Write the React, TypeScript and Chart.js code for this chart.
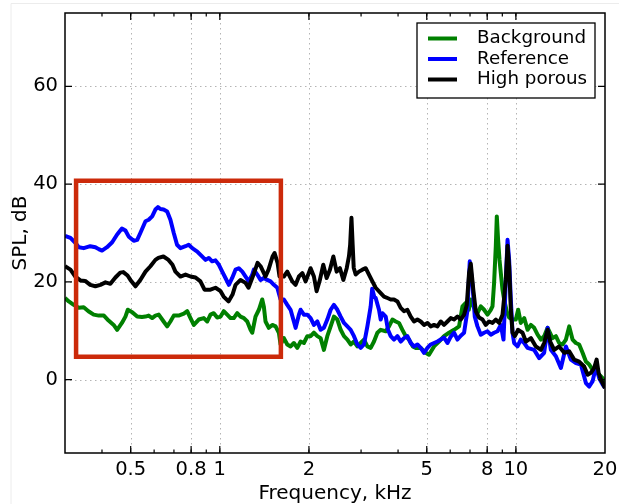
import React, { useEffect, useRef } from "react";
import { Chart, registerables } from "chart.js";

Chart.register(...registerables);

// ---------- data (frequency in kHz, level in dB) ----------
const bgFreq = [
  0.300, 0.309, 0.321, 0.334, 0.347, 0.360, 0.375, 0.390, 0.406, 0.421,
  0.438, 0.450, 0.467, 0.480, 0.489, 0.506, 0.526, 0.546, 0.561, 0.575,
  0.591, 0.606, 0.622, 0.646, 0.664, 0.681, 0.699, 0.726, 0.756, 0.776,
  0.796, 0.817, 0.849, 0.883, 0.907, 0.930, 0.954, 0.980, 1.006, 1.031,
  1.059, 1.087, 1.115, 1.145, 1.175, 1.206, 1.238, 1.270, 1.287, 1.320,
  1.355, 1.391, 1.408, 1.427, 1.464, 1.504, 1.543, 1.583, 1.604, 1.646,
  1.690, 1.734, 1.779, 1.827, 1.875, 1.923, 1.975, 2.026, 2.079, 2.135,
  2.190, 2.247, 2.307, 2.368, 2.429, 2.495, 2.560, 2.627, 2.697, 2.767,
  2.839, 2.915, 2.991, 3.069, 3.151, 3.233, 3.317, 3.406, 3.495, 3.634,
  3.728, 3.828, 3.928, 4.029, 4.137, 4.245, 4.356, 4.483, 4.589, 4.771,
  4.961, 5.089, 5.291, 5.501, 5.719, 5.946, 6.183, 6.428, 6.601, 6.773,
  6.933, 7.042, 7.224, 7.418, 7.612, 7.810, 8.019, 8.228, 8.337, 8.442,
  8.555, 8.622, 8.709, 8.805, 8.895, 9.013, 9.127, 9.321, 9.489, 9.744,
  9.998, 10.18, 10.39, 10.67, 10.95, 11.24, 11.53, 11.84, 12.15, 12.46,
  12.80, 13.30, 13.65, 14.00, 14.38, 14.76, 15.14, 15.54, 15.95, 16.36,
  16.80, 17.24, 17.69, 18.17, 18.64, 19.12, 19.64, 20.0,
];
const bgDb = [
  16.7, 16.0, 15.3, 14.7, 14.8, 14.0, 13.3, 13.1, 13.1, 12.1,
  11.2, 10.2, 11.6, 12.9, 14.3, 13.8, 12.9, 12.8, 12.9, 13.1,
  12.6, 13.1, 13.3, 11.9, 10.9, 11.9, 13.1, 13.1, 13.5, 14.0,
  12.6, 11.2, 12.3, 12.6, 11.9, 13.3, 13.6, 12.7, 12.9, 14.0,
  13.3, 12.6, 12.6, 13.6, 12.9, 12.6, 11.9, 10.2, 9.6, 12.9,
  14.3, 16.4, 15.0, 11.9, 10.6, 11.2, 10.9, 9.6, 7.2, 8.5,
  7.2, 6.8, 7.5, 6.5, 7.8, 7.5, 8.9, 8.9, 9.6, 8.9,
  8.5, 6.1, 8.9, 10.9, 12.9, 12.3, 10.2, 8.9, 8.2, 7.2,
  7.8, 6.8, 7.5, 8.2, 6.8, 6.5, 7.8, 9.6, 10.2, 9.9,
  10.9, 12.3, 11.9, 11.6, 10.2, 8.9, 8.2, 6.8, 6.5, 6.5,
  5.5, 5.1, 6.8, 7.8, 8.9, 9.6, 10.2, 10.9, 15.0, 15.7,
  14.3, 16.4, 14.7, 13.6, 15.0, 14.3, 13.3, 14.3, 15.0, 19.8,
  27.3, 33.4, 28.6, 24.5, 21.8, 18.4, 16.4, 13.9, 12.7, 12.3,
  12.3, 14.3, 11.6, 12.6, 10.2, 11.2, 10.6, 9.2, 8.2, 8.9,
  10.6, 8.5, 8.9, 7.5, 7.2, 8.2, 10.9, 8.2, 7.5, 7.2,
  5.5, 3.7, 3.1, 2.0, 1.7, 1.0, 0.3, -0.7,
];

const refFreq = [
  0.300, 0.313, 0.325, 0.334, 0.347, 0.365, 0.380, 0.390, 0.400, 0.416,
  0.433, 0.450, 0.467, 0.480, 0.492, 0.512, 0.526, 0.539, 0.561, 0.575,
  0.591, 0.606, 0.618, 0.630, 0.646, 0.664, 0.681, 0.699, 0.717, 0.736,
  0.766, 0.785, 0.807, 0.839, 0.871, 0.895, 0.918, 0.942, 0.967, 0.993,
  1.019, 1.045, 1.073, 1.101, 1.130, 1.159, 1.191, 1.222, 1.253, 1.287,
  1.303, 1.338, 1.373, 1.408, 1.446, 1.484, 1.523, 1.564, 1.604, 1.646,
  1.690, 1.734, 1.779, 1.803, 1.850, 1.875, 1.923, 1.975, 2.026, 2.079,
  2.135, 2.190, 2.247, 2.307, 2.368, 2.429, 2.495, 2.560, 2.627, 2.697,
  2.767, 2.839, 2.915, 2.991, 3.069, 3.151, 3.233, 3.271, 3.322, 3.361,
  3.449, 3.495, 3.541, 3.634, 3.698, 3.778, 3.876, 3.980, 4.083, 4.189,
  4.301, 4.414, 4.528, 4.650, 4.771, 4.895, 5.027, 5.157, 5.291, 5.433,
  5.575, 5.719, 5.873, 6.026, 6.183, 6.349, 6.514, 6.684, 6.852, 6.987,
  7.136, 7.264, 7.418, 7.612, 7.810, 8.019, 8.228, 8.442, 8.669, 8.895,
  9.083, 9.249, 9.372, 9.489, 9.616, 9.744, 9.866, 10.13, 10.39, 10.67,
  10.95, 11.53, 11.99, 12.46, 12.80, 13.13, 13.65, 14.19, 14.76, 15.34,
  15.95, 16.58, 17.24, 17.69, 18.17, 18.64, 19.12, 19.64, 20.0,
];
const refDb = [
  29.4, 29.0, 28.0, 27.1, 26.9, 27.3, 27.1, 26.7, 26.4, 27.1,
  28.1, 29.7, 30.9, 30.5, 29.3, 28.4, 28.6, 30.0, 32.4, 32.7,
  33.4, 34.8, 35.3, 34.9, 34.8, 34.4, 32.7, 30.0, 27.6, 26.9,
  27.3, 27.6, 26.9, 26.2, 25.2, 24.5, 24.9, 24.2, 24.4, 23.5,
  22.1, 20.8, 19.4, 20.8, 22.5, 22.8, 22.1, 21.1, 20.1, 21.5,
  22.5, 21.5, 20.4, 20.8, 20.4, 20.1, 19.4, 18.8, 16.4, 16.4,
  15.3, 14.3, 11.9, 10.6, 13.3, 14.3, 13.3, 13.3, 12.6, 11.2,
  11.9, 10.2, 10.6, 12.3, 14.3, 15.3, 14.3, 12.9, 11.6, 10.9,
  10.2, 8.9, 7.2, 6.5, 7.2, 10.9, 15.0, 18.6, 17.0, 16.7,
  14.3, 12.3, 13.6, 12.9, 10.2, 8.9, 8.2, 8.9, 7.8, 8.5,
  8.9, 7.5, 6.8, 7.2, 6.5, 5.5, 6.5, 7.2, 7.5, 7.8,
  8.2, 8.6, 7.5, 8.8, 9.6, 8.2, 9.0, 9.6, 13.9, 24.2,
  19.4, 12.9, 10.9, 9.2, 9.6, 9.9, 9.2, 9.6, 9.9, 11.2,
  8.2, 20.4, 28.6, 24.5, 16.4, 9.6, 7.5, 6.8, 8.2, 7.5,
  6.5, 6.1, 4.4, 5.5, 10.6, 6.1, 4.8, 2.4, 6.8, 4.1,
  3.4, 3.1, -0.7, -1.4, -0.3, 2.7, 0.3, -1.0, -1.7,
];

const hpFreq = [
  0.300, 0.313, 0.325, 0.338, 0.351, 0.365, 0.380, 0.395, 0.411, 0.427,
  0.444, 0.461, 0.472, 0.488, 0.499, 0.519, 0.539, 0.561, 0.583, 0.606,
  0.620, 0.645, 0.671, 0.692, 0.708, 0.736, 0.766, 0.796, 0.828, 0.860,
  0.888, 0.930, 0.967, 1.006, 1.030, 1.070, 1.104, 1.130, 1.175, 1.222,
  1.250, 1.300, 1.341, 1.373, 1.427, 1.461, 1.507, 1.531, 1.567, 1.591,
  1.646, 1.690, 1.757, 1.803, 1.850, 1.900, 1.949, 2.026, 2.079, 2.123,
  2.178, 2.236, 2.295, 2.355, 2.418, 2.481, 2.546, 2.614, 2.683, 2.730,
  2.756, 2.784, 2.810, 2.833, 2.877, 2.952, 3.031, 3.110, 3.190, 3.276,
  3.361, 3.495, 3.586, 3.682, 3.778, 3.876, 3.980, 4.083, 4.189, 4.301,
  4.414, 4.528, 4.650, 4.771, 4.895, 5.027, 5.157, 5.291, 5.433, 5.575,
  5.719, 5.873, 6.026, 6.183, 6.349, 6.514, 6.684, 6.826, 6.949, 7.042,
  7.181, 7.321, 7.511, 7.713, 7.914, 8.119, 8.337, 8.555, 8.778, 9.013,
  9.249, 9.372, 9.489, 9.616, 9.744, 9.920, 10.18, 10.53, 10.81, 11.24,
  11.68, 12.15, 12.46, 12.80, 13.06, 13.47, 14.00, 14.57, 15.14, 15.74,
  16.36, 17.01, 17.47, 17.93, 18.39, 18.74, 19.03, 19.38, 19.88, 20.0,
];
const hpDb = [
  23.2, 22.5, 21.1, 20.3, 20.2, 19.4, 19.1, 19.4, 19.9, 19.6,
  20.9, 21.9, 22.0, 21.3, 20.4, 19.1, 20.4, 22.1, 23.2, 24.5,
  24.9, 25.2, 24.5, 23.5, 22.1, 21.1, 21.5, 21.1, 20.9, 20.1,
  18.4, 18.4, 18.8, 18.1, 17.0, 16.0, 17.4, 19.4, 20.4, 19.8,
  18.8, 21.5, 23.9, 23.2, 21.1, 22.5, 25.2, 25.9, 23.9, 21.1,
  21.1, 22.1, 20.1, 19.4, 21.1, 21.8, 20.1, 22.8, 21.1, 18.1,
  20.4, 23.5, 20.8, 22.5, 25.2, 22.1, 22.8, 20.4, 22.8, 25.2,
  27.6, 33.1, 27.6, 22.9, 21.5, 22.1, 22.5, 22.8, 21.5, 20.1,
  18.8, 17.7, 17.0, 16.7, 16.4, 16.4, 16.0, 14.7, 14.0, 14.3,
  12.9, 11.9, 12.3, 11.9, 11.2, 11.6, 10.9, 11.2, 10.9, 11.9,
  11.2, 11.9, 12.6, 12.3, 12.9, 12.3, 13.3, 15.3, 21.9, 23.7,
  18.4, 14.0, 12.7, 12.3, 11.2, 11.9, 11.6, 12.3, 11.6, 13.3,
  20.4, 27.4, 23.2, 14.3, 9.6, 8.9, 10.2, 9.6, 7.8, 8.5,
  6.8, 6.1, 7.5, 10.2, 7.8, 6.1, 6.8, 5.5, 5.8, 4.1,
  3.7, 2.7, 1.0, 1.4, 2.4, 4.1, 1.4, 0.0, -1.4, -1.7,
];

// highlighted region (frequency bounds in kHz, level bounds in dB)
const boxFreq = [0.327, 1.608];
const boxDb = [4.7, 40.7];

const seriesLabels = ["Background", "Reference", "High porous"];
const seriesColors = ["#008000", "#0000ff", "#000000"];
const boxColor = "#cc2a0a";

const xTickValues = [0.5, 0.8, 1, 2, 5, 8, 10, 20];
const yTickValues = [0, 20, 40, 60];
const xRange = [0.3, 20];
const yRange = [-15, 75];

const FONT = "'DejaVu Sans', sans-serif";

function toPoints(f: number[], d: number[]) {
  const n = Math.min(f.length, d.length);
  const out: { x: number; y: number }[] = [];
  for (let i = 0; i < n; i++) out.push({ x: f[i], y: d[i] });
  return out;
}

function boxPoints() {
  const [f0, f1] = boxFreq;
  const [d0, d1] = boxDb;
  return [
    { x: f0, y: d0 },
    { x: f1, y: d0 },
    { x: f1, y: d1 },
    { x: f0, y: d1 },
    { x: f0, y: d0 },
    { x: f1, y: d0 },
  ];
}

const decorPlugin = {
  id: "decor",
  beforeDatasetsDraw(chart: any) {
    const { ctx, chartArea, scales } = chart;
    const { left, right, top, bottom } = chartArea;
    const xs = scales.x;
    const ys = scales.y;
    ctx.save();
    ctx.strokeStyle = "#b4b4b4";
    ctx.lineWidth = 1;
    ctx.setLineDash([1.5, 3.5]);
    for (const v of xTickValues) {
      const px = Math.round(xs.getPixelForValue(v)) + 0.5;
      if (px <= left + 1 || px >= right - 1) continue;
      ctx.beginPath();
      ctx.moveTo(px, top);
      ctx.lineTo(px, bottom);
      ctx.stroke();
    }
    for (const v of yTickValues) {
      const py = Math.round(ys.getPixelForValue(v)) + 0.5;
      ctx.beginPath();
      ctx.moveTo(left, py);
      ctx.lineTo(right, py);
      ctx.stroke();
    }
    ctx.restore();
  },
  afterDatasetsDraw(chart: any) {
    const { ctx, chartArea, scales, width, height } = chart;
    const { left, right, top, bottom } = chartArea;
    const xs = scales.x;
    const ys = scales.y;
    ctx.save();

    // faint figure edge
    ctx.strokeStyle = "#ececec";
    ctx.lineWidth = 1;
    ctx.beginPath();
    ctx.moveTo(11, height);
    ctx.lineTo(11, 3.5);
    ctx.lineTo(width, 3.5);
    ctx.stroke();

    // frame
    ctx.strokeStyle = "#000";
    ctx.lineWidth = 1.5;
    ctx.strokeRect(left, top, right - left, bottom - top);

    // ticks (inward, on all four sides)
    ctx.lineWidth = 1.2;
    const majorLen = 7;
    const minorLen = 3.5;
    const drawXTick = (v: number, len: number) => {
      const px = xs.getPixelForValue(v);
      if (px <= left + 1 || px >= right - 1) return;
      ctx.beginPath();
      ctx.moveTo(px, bottom);
      ctx.lineTo(px, bottom - len);
      ctx.moveTo(px, top);
      ctx.lineTo(px, top + len);
      ctx.stroke();
    };
    for (let e = -1; e <= 1; e++) {
      for (let k = 1; k <= 9; k++) {
        const v = k * Math.pow(10, e);
        if (v <= xRange[0] || v >= xRange[1]) continue;
        drawXTick(v, minorLen);
      }
    }
    for (const v of xTickValues) drawXTick(v, majorLen);
    for (const v of yTickValues) {
      const py = ys.getPixelForValue(v);
      ctx.beginPath();
      ctx.moveTo(left, py);
      ctx.lineTo(left + majorLen, py);
      ctx.moveTo(right, py);
      ctx.lineTo(right - majorLen, py);
      ctx.stroke();
    }

    // legend
    const bx = right - 188;
    const by = top + 10;
    const bw = 178;
    const bh = 75;
    ctx.fillStyle = "#fff";
    ctx.fillRect(bx, by, bw, bh);
    ctx.strokeStyle = "#000";
    ctx.lineWidth = 1.3;
    ctx.strokeRect(bx, by, bw, bh);
    ctx.font = `18.3px ${FONT}`;
    ctx.textBaseline = "middle";
    ctx.textAlign = "left";
    seriesLabels.forEach((lab, i) => {
      const ly = by + 15.5 + i * 20.5;
      ctx.strokeStyle = seriesColors[i];
      ctx.lineWidth = 4;
      ctx.beginPath();
      ctx.moveTo(bx + 11, ly);
      ctx.lineTo(bx + 40, ly);
      ctx.stroke();
      ctx.fillStyle = "#000";
      ctx.fillText(lab, bx + 60, ly);
    });

    // axis titles
    ctx.fillStyle = "#000";
    ctx.font = `20px ${FONT}`;
    ctx.textAlign = "center";
    ctx.textBaseline = "alphabetic";
    ctx.fillText("Frequency, kHz", (left + right) / 2, bottom + 46);
    ctx.translate(26, (top + bottom) / 2);
    ctx.rotate(-Math.PI / 2);
    ctx.fillText("SPL, dB", 0, 0);
    ctx.restore();
  },
};

export default function App() {
  const canvasRef = useRef<HTMLCanvasElement | null>(null);

  useEffect(() => {
    const canvas = canvasRef.current;
    if (!canvas) return;
    const lineDs = (i: number, f: number[], d: number[], order: number) => ({
      label: seriesLabels[i],
      data: toPoints(f, d),
      borderColor: seriesColors[i],
      backgroundColor: seriesColors[i],
      borderWidth: 4,
      pointRadius: 0,
      tension: 0,
      fill: false,
      borderJoinStyle: "round" as const,
      order,
    });
    const chart = new Chart(canvas, {
      type: "line",
      data: {
        datasets: [
          lineDs(0, bgFreq, bgDb, 3),
          lineDs(1, refFreq, refDb, 2),
          lineDs(2, hpFreq, hpDb, 1),
          {
            label: "region",
            data: boxPoints(),
            borderColor: boxColor,
            backgroundColor: boxColor,
            borderWidth: 4.5,
            pointRadius: 0,
            tension: 0,
            fill: false,
            borderJoinStyle: "miter" as const,
            borderCapStyle: "butt" as const,
            order: 0,
          } as any,
        ],
      },
      options: {
        animation: false,
        responsive: false,
        events: [],
        layout: { padding: { left: 0, right: 14, top: 13, bottom: 0 } },
        plugins: {
          legend: { display: false },
          tooltip: { enabled: false },
          title: { display: false },
        },
        scales: {
          x: {
            type: "logarithmic",
            min: xRange[0],
            max: xRange[1],
            grid: { display: false, drawTicks: false },
            border: { display: false },
            afterBuildTicks: (scale: any) => {
              scale.ticks = xTickValues.map((v) => ({ value: v }));
            },
            afterFit: (scale: any) => {
              scale.height = 51;
              scale.paddingLeft = 0;
              scale.paddingRight = 0;
              scale.paddingTop = 0;
              scale.paddingBottom = 0;
            },
            ticks: {
              autoSkip: false,
              maxRotation: 0,
              minRotation: 0,
              padding: 5,
              color: "#000",
              font: { family: FONT, size: 19.5 },
              callback: (v: any) => String(v),
            },
          },
          y: {
            type: "linear",
            min: yRange[0],
            max: yRange[1],
            grid: { display: false, drawTicks: false },
            border: { display: false },
            afterBuildTicks: (scale: any) => {
              scale.ticks = yTickValues.map((v) => ({ value: v }));
            },
            afterFit: (scale: any) => {
              scale.width = 65;
              scale.paddingLeft = 0;
              scale.paddingRight = 0;
              scale.paddingTop = 0;
              scale.paddingBottom = 0;
            },
            ticks: {
              padding: 7,
              color: "#000",
              font: { family: FONT, size: 19.5 },
              callback: (v: any) => String(v),
            },
          },
        },
      },
      plugins: [decorPlugin],
    } as any);
    return () => chart.destroy();
  }, []);

  return (
    <div style={{ position: "absolute", left: 0, top: 0, width: 619, height: 504, background: "#fff" }}>
      <canvas ref={canvasRef} width={619} height={504} style={{ display: "block" }} />
    </div>
  );
}
